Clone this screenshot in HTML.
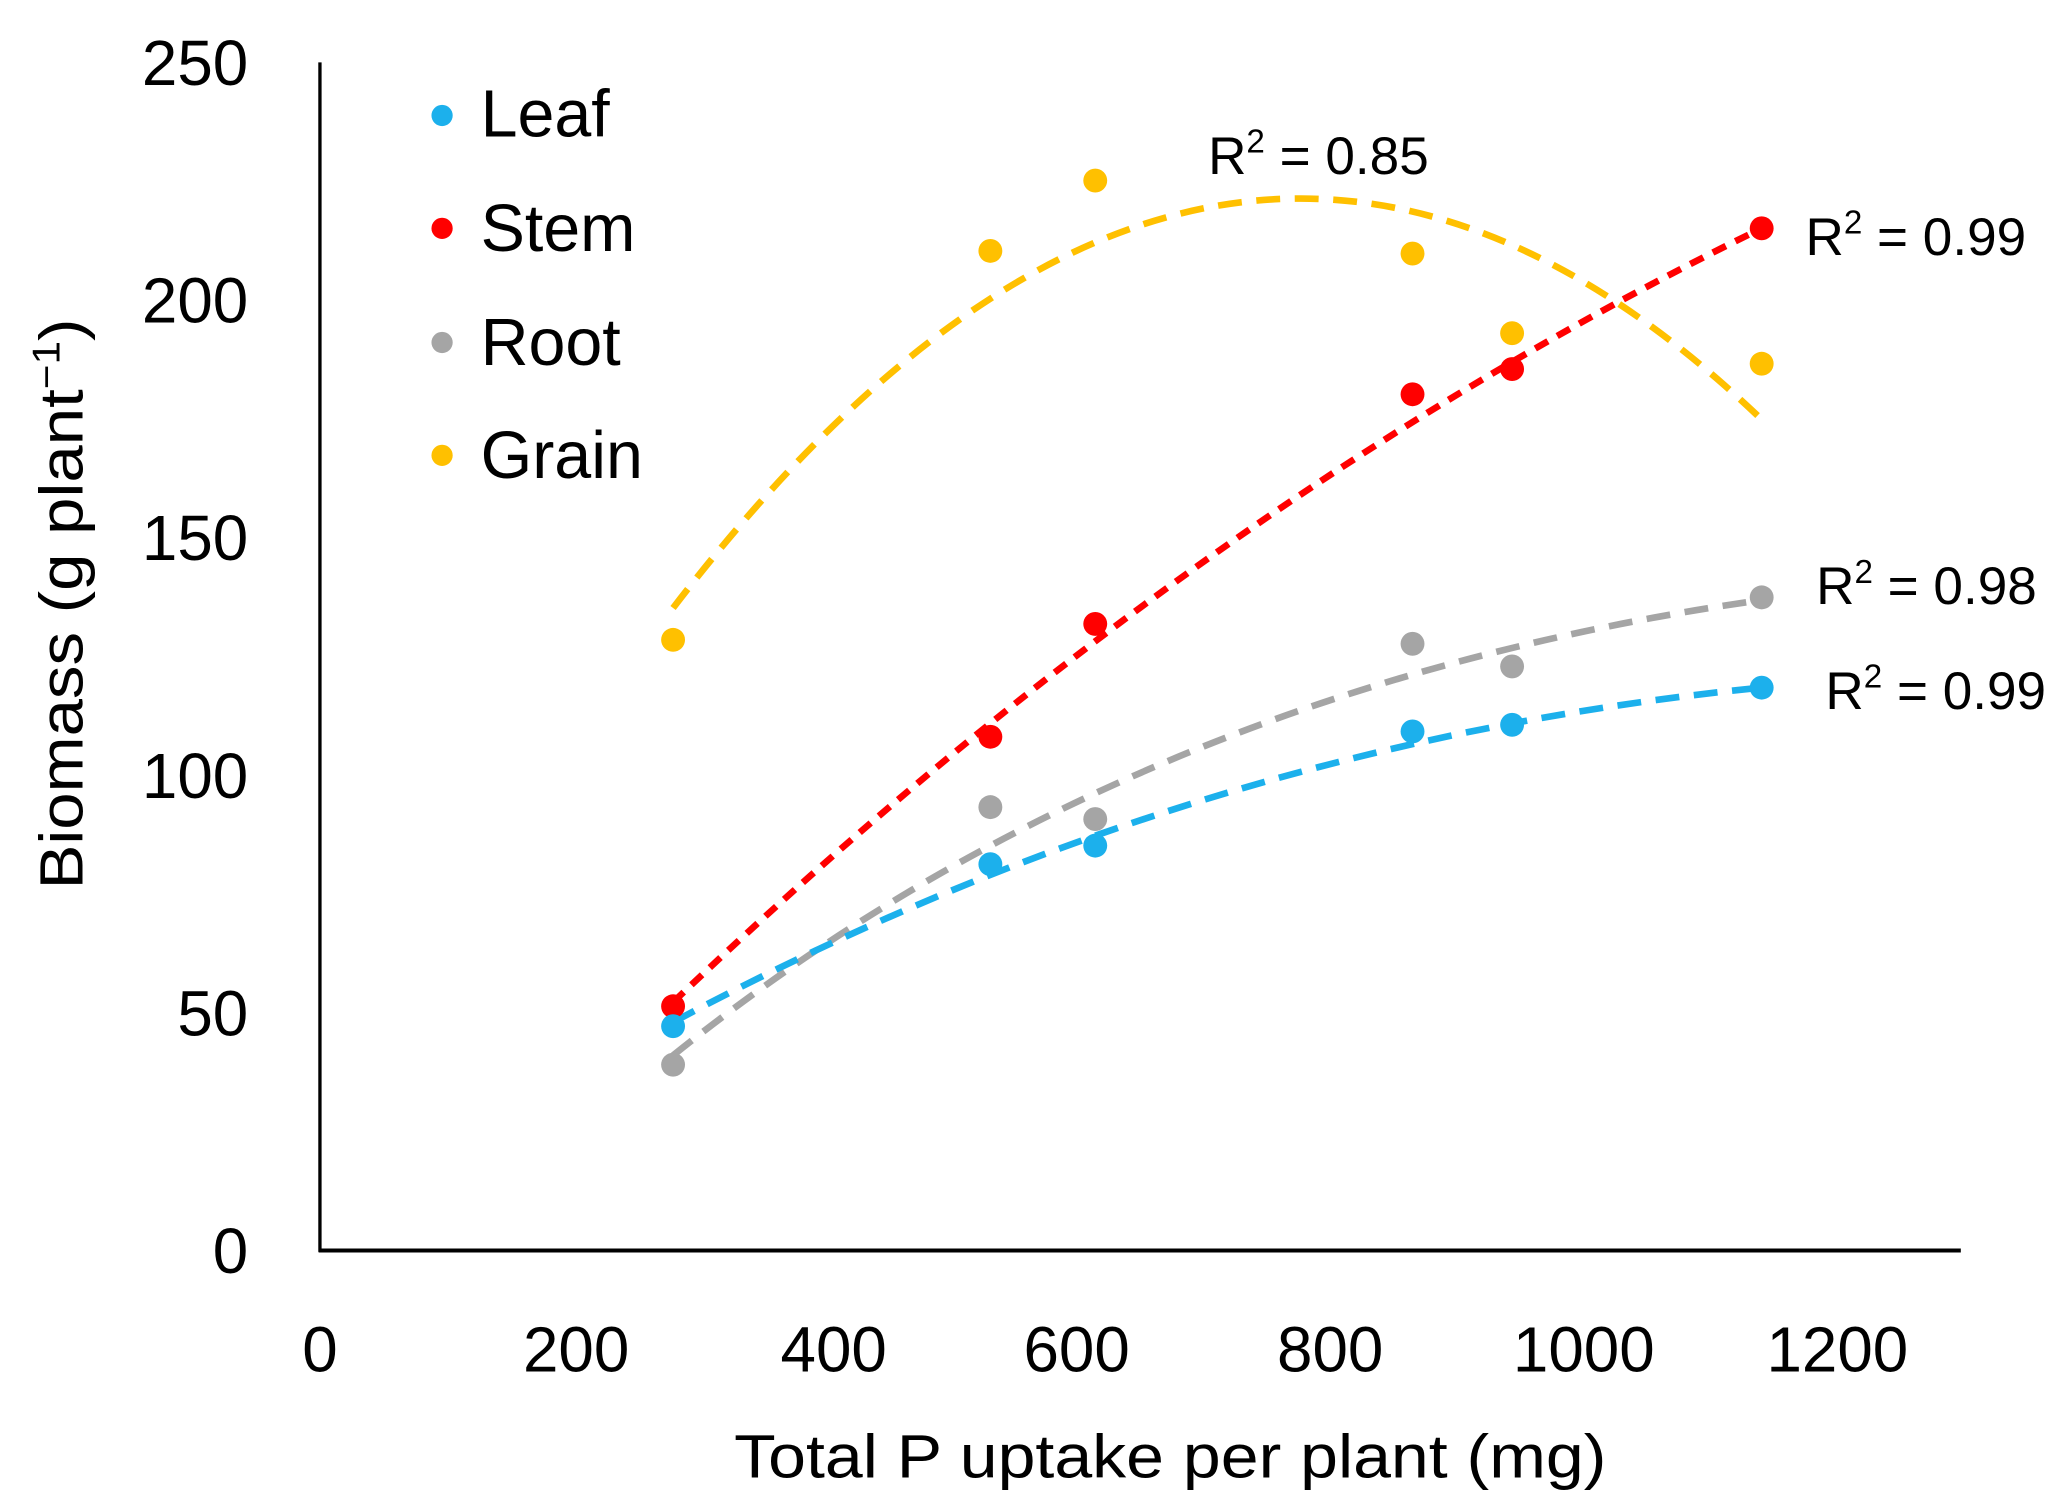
<!DOCTYPE html>
<html><head><style>html,body{margin:0;padding:0;background:#fff}svg{display:block}</style></head>
<body>
<svg width="2071" height="1503" viewBox="0 0 1560 1132.2" preserveAspectRatio="none" xmlns="http://www.w3.org/2000/svg" font-family="'Liberation Sans', sans-serif">
<rect width="1560" height="1133" fill="#fff"/>
<line x1="241" y1="47" x2="241" y2="943" stroke="#000" stroke-width="2.5"/>
<line x1="240" y1="942" x2="1477" y2="942" stroke="#000" stroke-width="3"/>
<g font-size="48" fill="#000" text-anchor="end">
<text x="187" y="64">250</text><text x="187" y="243">200</text><text x="187" y="422">150</text>
<text x="187" y="601">100</text><text x="187" y="780">50</text><text x="187" y="959">0</text>
</g>
<g font-size="48" fill="#000" text-anchor="middle">
<text x="241" y="1033">0</text><text x="434" y="1033">200</text><text x="628" y="1033">400</text>
<text x="811" y="1033">600</text><text x="1002" y="1033">800</text><text x="1193" y="1033">1000</text><text x="1384" y="1033">1200</text>
</g>
<text x="553" y="1113" font-size="46" textLength="657" lengthAdjust="spacingAndGlyphs">Total P uptake per plant (mg)</text>
<text transform="translate(62,670) rotate(-90)" font-size="46" textLength="430" lengthAdjust="spacingAndGlyphs">Biomass (g plant<tspan dy="-17" font-size="29">−1</tspan><tspan dy="17">)</tspan></text>
<g fill="none" stroke-width="5">
<path d="M507,458 Q917,-77 1327,316" stroke="#FFC000" stroke-dasharray="18,11"/>
<path d="M507,755 Q900,380 1327,172" stroke="#FF0000" stroke-dasharray="11,8"/>
<path d="M507,795 Q850,520 1327,452" stroke="#A5A5A5" stroke-dasharray="18,11"/>
<path d="M507,770 Q900,560 1327,518" stroke="#1CB0EC" stroke-dasharray="18,11"/>
</g>
<g fill="#FFC000"><circle cx="507" cy="482" r="9"/><circle cx="746" cy="189" r="9"/><circle cx="825" cy="136" r="9"/><circle cx="1064" cy="191" r="9"/><circle cx="1139" cy="251" r="9"/><circle cx="1327" cy="274" r="9"/></g>
<g fill="#FF0000"><circle cx="507" cy="758" r="9"/><circle cx="746" cy="555" r="9"/><circle cx="825" cy="470" r="9"/><circle cx="1064" cy="297" r="9"/><circle cx="1139" cy="278" r="9"/><circle cx="1327" cy="172" r="9"/></g>
<g fill="#A5A5A5"><circle cx="507" cy="802" r="9"/><circle cx="746" cy="608" r="9"/><circle cx="825" cy="617" r="9"/><circle cx="1064" cy="485" r="9"/><circle cx="1139" cy="502" r="9"/><circle cx="1327" cy="450" r="9"/></g>
<g fill="#1CB0EC"><circle cx="507" cy="773" r="9"/><circle cx="746" cy="651" r="9"/><circle cx="825" cy="637" r="9"/><circle cx="1064" cy="551" r="9"/><circle cx="1139" cy="546" r="9"/><circle cx="1327" cy="518" r="9"/></g>
<g font-size="40" fill="#000">
<text x="910" y="131">R<tspan dy="-16" font-size="25">2</tspan><tspan dy="16"> = 0.85</tspan></text>
<text x="1360" y="192">R<tspan dy="-16" font-size="25">2</tspan><tspan dy="16"> = 0.99</tspan></text>
<text x="1368" y="455">R<tspan dy="-16" font-size="25">2</tspan><tspan dy="16"> = 0.98</tspan></text>
<text x="1375" y="534">R<tspan dy="-16" font-size="25">2</tspan><tspan dy="16"> = 0.99</tspan></text>
</g>
<circle cx="333" cy="87" r="8" fill="#1CB0EC"/><circle cx="333" cy="172" r="8" fill="#FF0000"/>
<circle cx="333" cy="258" r="8" fill="#A5A5A5"/><circle cx="333" cy="343" r="8" fill="#FFC000"/>
<g font-size="50" fill="#000">
<text x="362" y="103">Leaf</text><text x="362" y="189">Stem</text><text x="362" y="275">Root</text><text x="362" y="360">Grain</text>
</g>
</svg>
</body></html>
